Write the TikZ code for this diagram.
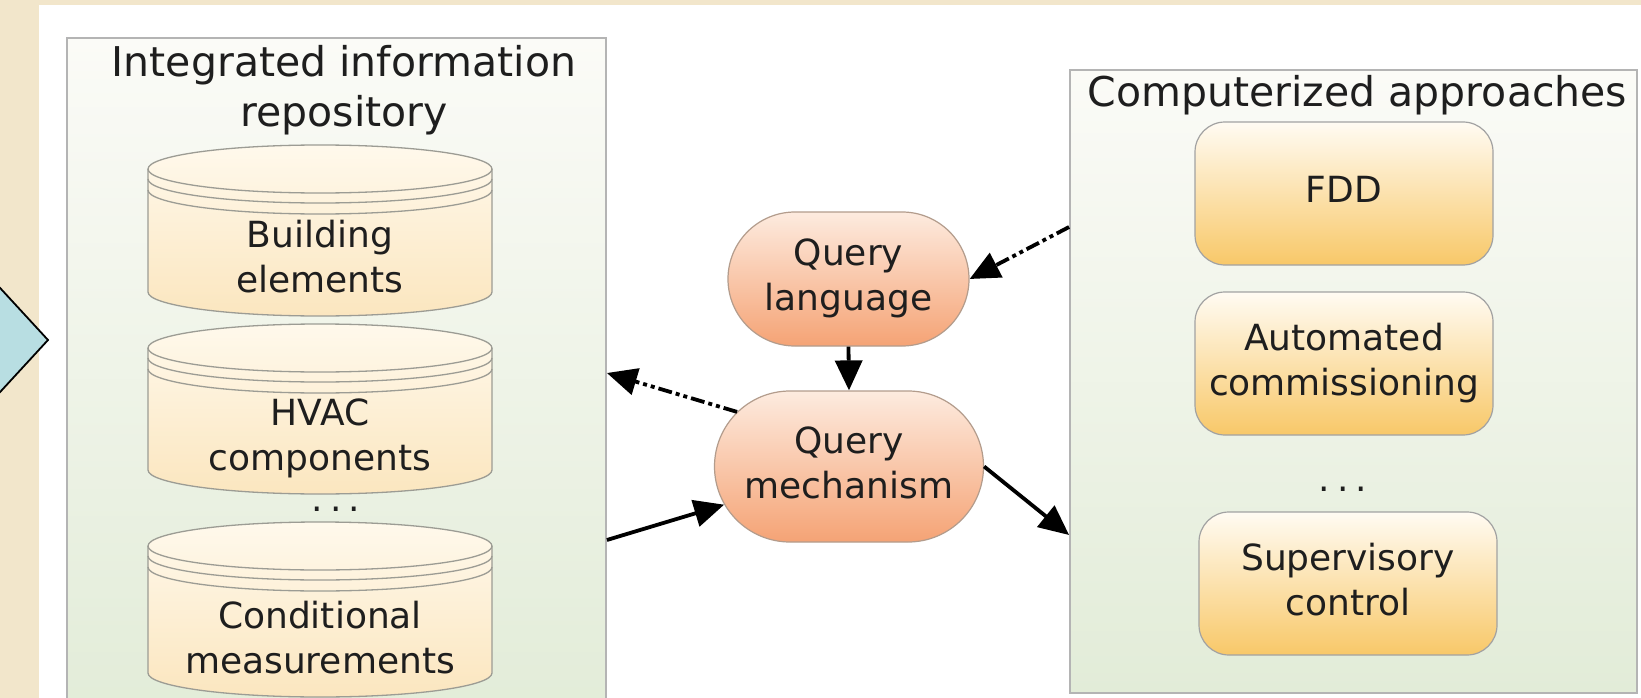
\documentclass[tikz,border=0pt]{standalone}
\usepackage{fontspec}
\setmainfont{DejaVu Sans}
\usetikzlibrary{arrows.meta,shapes.misc}

\definecolor{beige}{HTML}{F2E6CB}
\definecolor{chevblue}{HTML}{B8DEE2}
\definecolor{ink}{HTML}{1E1E1E}
\definecolor{panelTop}{HTML}{FBFBF7}
\definecolor{panelBot}{HTML}{E2ECD8}
\definecolor{panelEdge}{HTML}{B4B4B4}
\definecolor{dbTop}{HTML}{FFF9EC}
\definecolor{dbBot}{HTML}{FBE6BF}
\definecolor{dbEdge}{HTML}{9C9C94}
\definecolor{qTop}{HTML}{FDEBDF}
\definecolor{qBot}{HTML}{F5A375}
\definecolor{qEdge}{HTML}{B39C8C}
\definecolor{appTop}{HTML}{FFFBF3}
\definecolor{appBot}{HTML}{F8C868}
\definecolor{appEdge}{HTML}{A2A2A2}

% database stack: name, centre x, top-face centre y, bottom centre y, label
\newcommand\dbstack[5]{%
  \path[dbbody] (#2-172,-#3) -- (#2-172,-#4)
    arc[start angle=180,end angle=360,x radius=172,y radius=24]
    -- (#2+172,-#3)
    arc[start angle=0,end angle=180,x radius=172,y radius=24] -- cycle;
  \foreach \off in {0,10,21}
    \draw[dbline] (#2-172,-#3-\off) arc[start angle=180,end angle=360,x radius=172,y radius=24];
  \node[dbtext] (#1) at (#2,-#4+31) {#5};
}

% two centred lines in a box of zero width, so the shape sets its own size
\newcommand\qlines[2]{\makebox[0pt][c]{\begin{tabular}{@{}c@{}}#1\\#2\end{tabular}}}

\tikzset{
  panel/.style={rectangle, draw=panelEdge, line width=1.8pt, top color=panelTop, bottom color=panelBot, inner sep=0pt},
  paneltitle/.style={font=\fontsize{41}{50}\selectfont, text=ink, align=center, inner sep=0pt},
  dbbody/.style={draw=dbEdge, line width=1.3pt, top color=dbTop, bottom color=dbBot},
  dbline/.style={draw=dbEdge, line width=1.3pt},
  dbtext/.style={font=\fontsize{36}{45}\selectfont, text=ink, align=center, inner sep=0pt},
  query/.style={rounded rectangle, draw=qEdge, line width=1.2pt, top color=qTop, bottom color=qBot,
    font=\fontsize{36}{45}\selectfont, text=ink, inner sep=0pt},
  appbox/.style={rectangle, rounded corners=30pt, draw=appEdge, line width=1.2pt, top color=appTop, bottom color=appBot,
    minimum width=298pt, minimum height=143pt, font=\fontsize{36}{45}\selectfont, text=ink, align=center, inner sep=0pt},
  ellips/.style={font=\fontsize{36}{45}\selectfont, text=ink, inner sep=0pt, anchor=base},
  leadmark/.style={fill=chevblue, draw=black, line width=1.8pt},
  link/.style={line width=3.8pt, draw=black, -{Triangle[length=30pt,width=27pt]}},
  dashlink/.style={link, dash pattern=on 14pt off 4pt on 4pt off 4pt on 4pt off 4pt},
}

\begin{document}
\begin{tikzpicture}[x=1pt,y=1pt]
\useasboundingbox (0,0) rectangle (1641,-698);
\clip (0,0) rectangle (1641,-698);

% page background
\fill[white] (0,0) rectangle (1641,-698);
\fill[beige] (0,0) rectangle (39,-698);
\fill[beige] (0,0) rectangle (1641,-5);
\filldraw[leadmark] (-10,-277) -- (48,-340) -- (-10,-403) -- cycle;

% repository panel
\node[panel, minimum width=539pt, minimum height=682pt] (repo) at (336.5,-379) {};
\node[paneltitle] (repotitle) at (344,-92) {\strut Integrated information\\\strut repository};

\dbstack{building}{320}{169}{292}{\strut Building\\\strut elements}
\dbstack{hvac}{320}{348}{470}{\strut HVAC\\\strut components}
\node[ellips] (repodots) at (336,-511) {.\hspace{7pt}.\hspace{7pt}.};
\dbstack{cond}{320}{546}{673}{\strut Conditional\\\strut measurements}

% approaches panel
\node[panel, minimum width=567pt, minimum height=623pt] (apps) at (1353.5,-381.5) {};
\node[paneltitle] (appstitle) at (1357.5,-97) {\strut Computerized approaches};

\node[appbox] (fdd) at (1344,-193.5) {\strut FDD};
\node[appbox] (acx) at (1344,-363.5) {\strut Automated\\\strut commissioning};
\node[ellips] (appdots) at (1343,-491) {.\hspace{7pt}.\hspace{7pt}.};
\node[appbox] (sup) at (1348,-583.5) {\strut Supervisory\\\strut control};

% query nodes
\node[query, minimum width=241pt, minimum height=134pt] (lang) at (848.5,-279) {\qlines{Query}{language}};
\node[query, minimum width=269pt, minimum height=151pt] (mech) at (849,-466.5) {\qlines{Query}{mechanism}};

% panel ports
\coordinate (repoIn) at (repo.east |- 0,-373);
\coordinate (repoOut) at (repo.east |- 0,-540);
\coordinate (appsOut) at (apps.west |- 0,-227);
\coordinate (appsIn) at (apps.west |- 0,-535);

% connectors
\draw[dashlink] (appsOut) -- (lang.east);
\draw[dashlink] (lang.south) -- (mech.north);
\draw[dashlink] (mech.154) -- (repoIn);
\draw[link] (repoOut) -- (mech.197);
\draw[link] (mech.east) -- (appsIn);
\end{tikzpicture}
\end{document}
